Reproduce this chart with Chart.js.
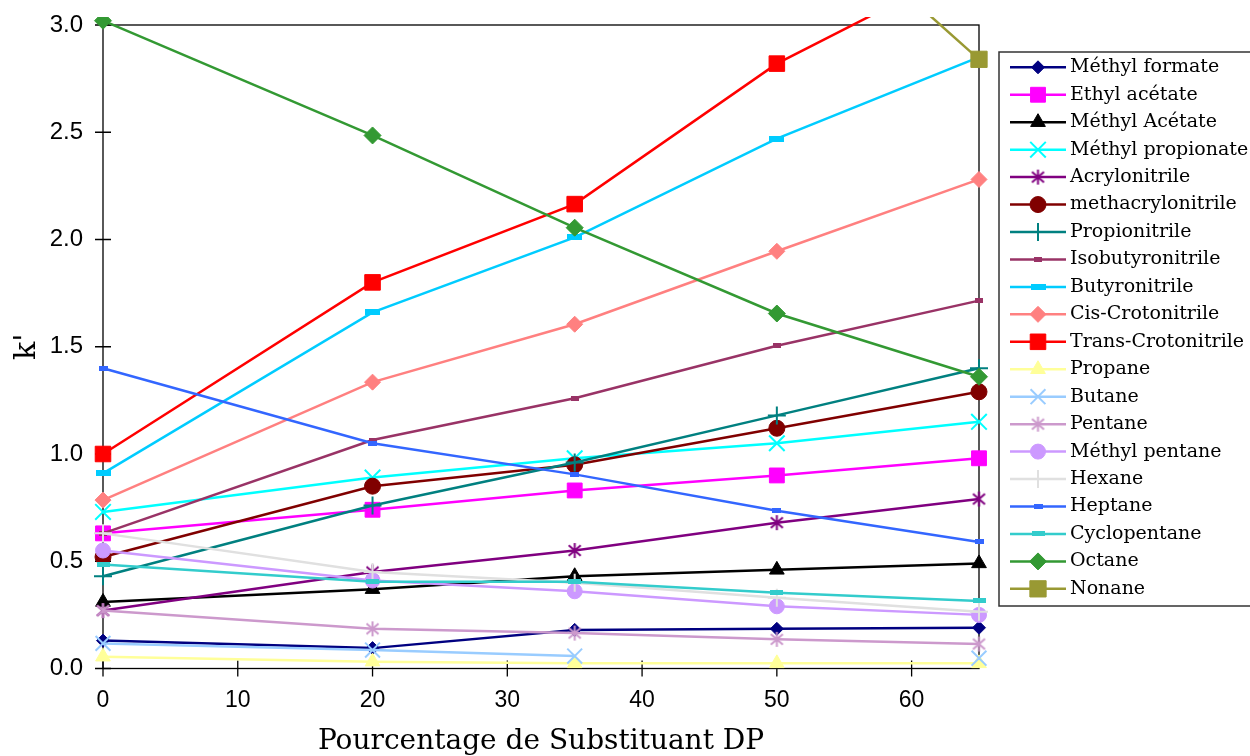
<!DOCTYPE html>
<html>
<head>
<meta charset="utf-8">
<script src="https://cdn.jsdelivr.net/npm/chart.js@4/dist/chart.umd.min.js"></script>
<style>
  html, body { margin: 0; padding: 0; background: #fff; }
  #wrap { width: 1250px; height: 756px; }
</style>
</head>
<body>
<div id="wrap"><canvas id="myChart" width="1250" height="756"></canvas></div>
<script>
var xValues = [0, 20, 35, 50, 65];
var xTicks = [0, 10, 20, 30, 40, 50, 60];
var yTicks = [0, 0.5, 1.0, 1.5, 2.0, 2.5, 3.0];

var names = [
  "Méthyl formate",
  "Ethyl acétate",
  "Méthyl Acétate",
  "Méthyl propionate",
  "Acrylonitrile",
  "methacrylonitrile",
  "Propionitrile",
  "Isobutyronitrile",
  "Butyronitrile",
  "Cis-Crotonitrile",
  "Trans-Crotonitrile",
  "Propane",
  "Butane",
  "Pentane",
  "Méthyl pentane",
  "Hexane",
  "Heptane",
  "Cyclopentane",
  "Octane",
  "Nonane",
];

var methylFormate = [0.13, 0.095, 0.18, 0.185, 0.19];
var ethylAcetate = [0.63, 0.74, 0.83, 0.9, 0.98];
var methylAcetate = [0.31, 0.37, 0.43, 0.46, 0.49];
var methylPropionate = [0.73, 0.89, 0.98, 1.05, 1.15];
var acrylonitrile = [0.27, 0.45, 0.55, 0.68, 0.79];
var methacrylonitrile = [0.52, 0.85, 0.95, 1.12, 1.29];
var propionitrile = [0.43, 0.76, 0.96, 1.18, 1.4];
var isobutyronitrile = [0.63, 1.065, 1.26, 1.505, 1.715];
var butyronitrile = [0.91, 1.66, 2.01, 2.47, 2.85];
var cisCrotonitrile = [0.785, 1.335, 1.605, 1.945, 2.28];
var transCrotonitrile = [1.0, 1.8, 2.165, 2.82, 3.3];
var propane = [0.055, 0.032, 0.024, 0.024, 0.024];
var butane = [0.117, 0.086, 0.058, null, 0.048];
var pentane = [0.27, 0.185, 0.165, 0.136, 0.114];
var methylPentane = [0.55, 0.41, 0.36, 0.29, 0.25];
var hexane = [0.63, 0.45, 0.4, 0.33, 0.265];
var heptane = [1.4, 1.05, 0.905, 0.735, 0.59];
var cyclopentane = [0.485, 0.405, 0.405, 0.353, 0.315];
var octane = [3.02, 2.485, 2.055, 1.655, 1.36];
var nonane = [null, null, null, 3.68, 2.84];

var seriesValues = [
  methylFormate, ethylAcetate, methylAcetate, methylPropionate, acrylonitrile,
  methacrylonitrile, propionitrile, isobutyronitrile, butyronitrile, cisCrotonitrile,
  transCrotonitrile, propane, butane, pentane, methylPentane,
  hexane, heptane, cyclopentane, octane, nonane,
];

var colors = [
  "#000080", "#FF00FF", "#000000", "#00FFFF", "#800080",
  "#800000", "#008080", "#993366", "#00CCFF", "#FF8080",
  "#FF0000", "#FFFF99", "#99CCFF", "#CC99CC", "#CC99FF",
  "#E0E0E0", "#3366FF", "#33CCCC", "#339933", "#999933",
];

// small canvas markers for the dash and asterisk styles
function makeDash(w, h, color) {
  var c = document.createElement("canvas");
  c.width = w;
  c.height = h;
  var g = c.getContext("2d");
  g.fillStyle = color;
  g.fillRect(0, 0, w, h);
  return c;
}

function makeAsterisk(size, color) {
  var c = document.createElement("canvas");
  c.width = size;
  c.height = size;
  var g = c.getContext("2d");
  var m = size / 2, r = size / 2 - 1;
  g.strokeStyle = color;
  g.lineWidth = 2;
  g.beginPath();
  g.moveTo(m, m - r); g.lineTo(m, m + r);
  g.moveTo(m - r * 0.8, m - r * 0.7); g.lineTo(m + r * 0.8, m + r * 0.7);
  g.moveTo(m - r * 0.8, m + r * 0.7); g.lineTo(m + r * 0.8, m - r * 0.7);
  g.stroke();
  return c;
}

var markers = [
  { style: "rectRot", r: 6.5 },
  { style: "rect", r: 10.5 },
  { style: "triangle", r: 8.5 },
  { style: "crossRot", r: 11, line: true },
  { style: makeAsterisk(17, colors[4]), r: 8 },
  { style: "circle", r: 8 },
  { style: "cross", r: 9, line: true },
  { style: makeDash(8, 5, colors[7]), r: 4 },
  { style: makeDash(15, 6, colors[8]), r: 7 },
  { style: "rectRot", r: 8 },
  { style: "rect", r: 11 },
  { style: "triangle", r: 8.5 },
  { style: "crossRot", r: 10.5, line: true },
  { style: makeAsterisk(17, colors[13]), r: 8 },
  { style: "circle", r: 7.5 },
  { style: "cross", r: 9, line: true },
  { style: makeDash(9, 5, colors[16]), r: 4 },
  { style: makeDash(13, 5, colors[17]), r: 6 },
  { style: "rectRot", r: 8.5 },
  { style: "rect", r: 11.5 },
];

function buildDatasets() {
  return names.map(function (name, i) {
    return {
      label: name,
      data: seriesValues[i].map(function (v, j) { return { x: xValues[j], y: v }; }),
      borderColor: colors[i],
      backgroundColor: colors[i],
      borderWidth: 2.5,
      pointStyle: markers[i].style,
      pointRadius: markers[i].r,
      pointHoverRadius: markers[i].r,
      pointBorderWidth: markers[i].line ? 2 : 1,
      pointBorderColor: colors[i],
      pointBackgroundColor: colors[i],
      tension: 0,
      spanGaps: false,
      order: names.length - i,
      clip: { left: false, right: false, bottom: false, top: 8 },
    };
  });
}

var framePlugin = {
  id: "frame",
  beforeDatasetsDraw: function (chart) {
    var ctx = chart.ctx, a = chart.chartArea;
    var xs = chart.scales.x, ys = chart.scales.y;
    ctx.save();
    ctx.strokeStyle = "#000";
    ctx.lineWidth = 1.3;
    ctx.strokeRect(a.left, a.top, a.right - a.left, a.bottom - a.top);
    ctx.beginPath();
    xs.ticks.forEach(function (t) {
      var x = xs.getPixelForValue(t.value);
      ctx.moveTo(x, a.bottom - 8);
      ctx.lineTo(x, a.bottom + 8);
    });
    ys.ticks.forEach(function (t) {
      var y = ys.getPixelForValue(t.value);
      ctx.moveTo(a.left - 8, y);
      ctx.lineTo(a.left + 8, y);
    });
    ctx.stroke();
    ctx.restore();
  },
};

var legendPlugin = {
  id: "boxLegend",
  afterDraw: function (chart) {
    var ctx = chart.ctx;
    var left = 999, top = 52, bottom = 606;
    ctx.save();
    ctx.strokeStyle = "#333";
    ctx.lineWidth = 1.5;
    ctx.strokeRect(left, top, 1260 - left, bottom - top);
    ctx.font = "19px 'DejaVu Serif'";
    ctx.textBaseline = "middle";
    chart.data.datasets.forEach(function (ds, i) {
      var y = 67.3 + i * 27.45;
      ctx.strokeStyle = ds.borderColor;
      ctx.lineWidth = 2.5;
      ctx.beginPath();
      ctx.moveTo(1010, y);
      ctx.lineTo(1066, y);
      ctx.stroke();
      var st = ds.pointStyle;
      if (st instanceof HTMLCanvasElement) {
        ctx.drawImage(st, 1038 - st.width / 2, y - st.height / 2);
      } else {
        ctx.fillStyle = ds.borderColor;
        ctx.strokeStyle = ds.borderColor;
        ctx.lineWidth = ds.pointBorderWidth;
        Chart.helpers.drawPoint(ctx, {
          pointStyle: st,
          radius: ds.pointRadius,
          rotation: 0,
          borderWidth: ds.pointBorderWidth,
        }, 1038, y);
      }
      ctx.fillStyle = "#000";
      ctx.fillText(ds.label, 1070, y);
    });
    ctx.restore();
  },
};

window.onload = function () {
  var ctx = document.getElementById("myChart").getContext("2d");
  var myChart = new Chart(ctx, {
    type: "line",
    data: { datasets: buildDatasets() },
    plugins: [framePlugin, legendPlugin],
    options: {
      responsive: false,
      animation: false,
      layout: { padding: { top: 25, right: 271, left: 0, bottom: 0 } },
      plugins: {
        legend: { display: false },
        tooltip: { enabled: false },
      },
      scales: {
        x: {
          type: "linear",
          min: 0,
          max: 65,
          afterFit: function (scale) {
            scale.height = 87.5;
            scale.paddingLeft = 0;
            scale.paddingRight = 0;
          },
          afterBuildTicks: function (scale) {
            scale.ticks = xTicks.map(function (v) { return { value: v }; });
          },
          grid: { display: false, drawTicks: false },
          border: { display: false },
          ticks: {
            padding: 18,
            color: "#000",
            font: { family: "'Liberation Sans', Arial", size: 23 },
            maxRotation: 0,
          },
          title: {
            display: true,
            text: "Pourcentage de Substituant DP",
            color: "#000",
            font: { family: "'DejaVu Serif'", size: 28 },
            padding: { top: 0, bottom: -3 },
          },
        },
        y: {
          type: "linear",
          min: 0,
          max: 3,
          afterFit: function (scale) {
            scale.width = 103;
            scale.paddingTop = 0;
            scale.paddingBottom = 0;
          },
          afterBuildTicks: function (scale) {
            scale.ticks = yTicks.map(function (v) { return { value: v }; });
          },
          grid: { display: false, drawTicks: false },
          border: { display: false },
          ticks: {
            padding: 20,
            color: "#000",
            font: { family: "'Liberation Sans', Arial", size: 24 },
            callback: function (v) { return Number(v).toFixed(1); },
          },
          title: {
            display: true,
            text: "k'",
            color: "#000",
            font: { family: "'DejaVu Serif'", size: 30 },
            padding: { top: 9, bottom: 0 },
          },
        },
      },
    },
  });
};
</script>
</body>
</html>
